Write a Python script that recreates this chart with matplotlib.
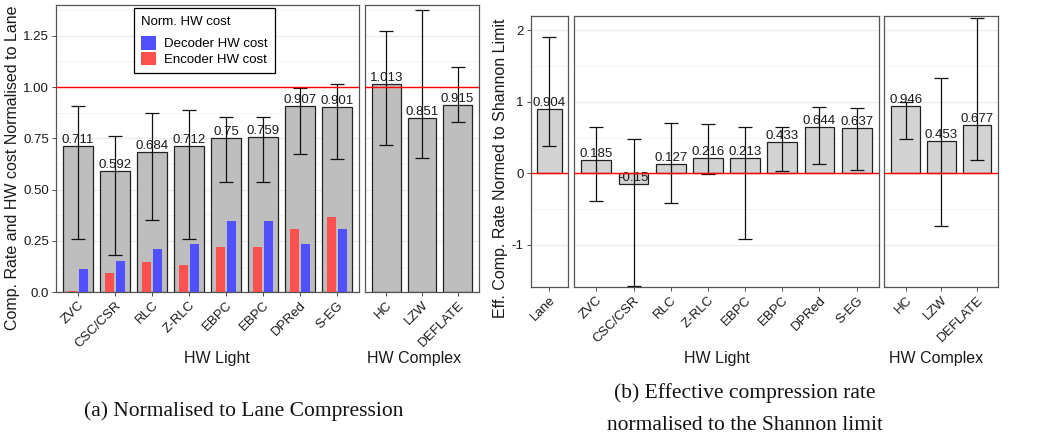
"""
Graphique en deux parties : taux de compression normalisé à Lane (a)
et taux effectif normalisé à la limite de Shannon (b).
"""

import matplotlib
matplotlib.use("Agg")
import matplotlib.pyplot as plt

# --- Données ---------------------------------------------------------------
light_labels = ["ZVC", "CSC/CSR", "RLC", "Z-RLC", "EBPC", "EBPC", "DPRed", "S-EG"]
complex_labels = ["HC", "LZW", "DEFLATE"]
lane_labels = ["Lane"]

# (a) normalisé à Lane
lane_rate_light = [0.711, 0.592, 0.684, 0.712, 0.75, 0.759, 0.907, 0.901]
lane_low_light = [0.259, 0.182, 0.353, 0.262, 0.537, 0.537, 0.675, 0.650]
lane_high_light = [0.906, 0.763, 0.872, 0.888, 0.852, 0.852, 0.997, 1.016]
encoder_cost = [0.006, 0.093, 0.146, 0.132, 0.220, 0.220, 0.307, 0.366]
decoder_cost = [0.115, 0.151, 0.210, 0.237, 0.346, 0.346, 0.233, 0.309]

lane_rate_complex = [1.013, 0.851, 0.915]
lane_low_complex = [0.717, 0.654, 0.828]
lane_high_complex = [1.275, 1.374, 1.098]

# (b) normalisé à la limite de Shannon
shannon_lane = [0.904]
shannon_low_lane = [0.383]
shannon_high_lane = [1.90]

shannon_light = [0.185, -0.15, 0.127, 0.216, 0.213, 0.433, 0.644, 0.637]
shannon_low_light = [-0.383, -1.570, -0.416, -0.009, -0.925, 0.028, 0.131, 0.051]
shannon_high_light = [0.650, 0.477, 0.710, 0.696, 0.654, 0.654, 0.921, 0.916]

shannon_complex = [0.946, 0.453, 0.677]
shannon_low_complex = [0.477, -0.734, 0.187]
shannon_high_complex = [0.995, 1.327, 2.173]

# --- Style -----------------------------------------------------------------
W, H = 1045, 443
SANS = "Liberation Sans"
SERIF = "Liberation Serif"
TXT = "#1a1a1a"
RED = "#FF5050"
BLUE = "#5050FF"
LINE_RED = "#FF0000"

plt.rcParams["font.family"] = SANS
plt.rcParams["axes.unicode_minus"] = False

fig = plt.figure(figsize=(W / 100, H / 100), dpi=100)


def px_axes(x0, y0, x1, y1):
    """Crée des axes à partir de coordonnées en pixels (origine en haut à gauche)."""
    return fig.add_axes([x0 / W, 1 - y1 / H, (x1 - x0) / W, (y1 - y0) / H])


def style_panel(ax, labels, ylim, major, minor, show_y):
    n = len(labels)
    ax.set_xlim(0.4, n + 0.6)
    ax.set_ylim(*ylim)
    ax.set_yticks(major)
    ax.set_yticks(minor, minor=True)
    ax.grid(axis="y", which="major", color="#EBEBEB", linewidth=0.9)
    ax.grid(axis="y", which="minor", color="#F2F2F2", linewidth=0.6)
    ax.set_axisbelow(True)
    ax.set_xticks(range(1, n + 1))
    ax.set_xticklabels(labels, rotation=45, ha="right", va="top",
                       rotation_mode="anchor", fontsize=9.5, color=TXT)
    ax.tick_params(axis="both", which="major", length=3, width=0.6, color="#333333", pad=2)
    ax.tick_params(axis="y", which="minor", length=0)
    for s in ax.spines.values():
        s.set_color("#555555")
        s.set_linewidth(0.9)
    if not show_y:
        ax.tick_params(axis="y", which="both", left=False, labelleft=False)
    else:
        ax.tick_params(axis="y", labelsize=9.5, labelcolor=TXT)


def draw_rates(ax, values, low, high, fill):
    x = list(range(1, len(values) + 1))
    ax.bar(x, values, width=0.8, color=fill, edgecolor="#222222", linewidth=0.9, zorder=2)
    for xi, v, lo, hi in zip(x, values, low, high):
        ax.errorbar(xi, v, yerr=[[v - lo], [hi - v]], fmt="none", ecolor="#111111",
                    elinewidth=0.9, capsize=4.7, capthick=0.9, zorder=5)
        ax.text(xi, v, f"{v:g}", ha="center", va="bottom", fontsize=9.5,
                color=TXT, zorder=4)


# --- (a) Normalisé à Lane --------------------------------------------------
a_ylim = (0, 1.40)
a_major = [0, 0.25, 0.5, 0.75, 1.0, 1.25]
a_minor = [0.125, 0.375, 0.625, 0.875, 1.125, 1.375]

ax_a1 = px_axes(56, 5, 359, 292.3)
ax_a2 = px_axes(365, 5, 479, 292.3)

style_panel(ax_a1, light_labels, a_ylim, a_major, a_minor, True)
ax_a1.set_yticklabels(["0.0", "0.25", "0.50", "0.75", "1.00", "1.25"])
style_panel(ax_a2, complex_labels, a_ylim, a_major, a_minor, False)

draw_rates(ax_a1, lane_rate_light, lane_low_light, lane_high_light, "#BEBEBE")
xl = range(1, len(light_labels) + 1)
enc = ax_a1.bar([v - 0.145 for v in xl], encoder_cost, width=0.24, color=RED, zorder=3)
dec = ax_a1.bar([v + 0.145 for v in xl], decoder_cost, width=0.24, color=BLUE, zorder=3)
draw_rates(ax_a2, lane_rate_complex, lane_low_complex, lane_high_complex, "#BEBEBE")

for ax in (ax_a1, ax_a2):
    ax.axhline(1.0, color=LINE_RED, linewidth=1.0, zorder=6)

leg = ax_a1.legend([dec, enc], ["Decoder HW cost", "Encoder HW cost"],
                   title="Norm. HW cost", loc="upper left",
                   bbox_to_anchor=(133.5 / W, 1 - 8.5 / H), bbox_transform=fig.transFigure,
                   fontsize=9.5, title_fontsize=9.5, frameon=True, fancybox=False,
                   edgecolor="black", framealpha=1, handlelength=1.15, handleheight=1.2,
                   handletextpad=0.6, labelspacing=0.12, borderpad=0.55,
                   alignment="left", borderaxespad=0)
leg._legend_box.sep = 6
leg.get_frame().set_linewidth(0.9)
leg.set_zorder(10)

fig.text(13 / W, 1 - 168 / H, "Comp. Rate and HW cost Normalised to Lane",
         rotation=90, ha="center", va="center", fontsize=11.5, color=TXT)
fig.text(217 / W, 1 - 358 / H, "HW Light", ha="center", va="center", fontsize=11.5, color=TXT)
fig.text(414 / W, 1 - 358 / H, "HW Complex", ha="center", va="center", fontsize=11.5, color=TXT)

fig.text(244 / W, 1 - 411 / H, "(a) Normalised to Lane Compression",
         ha="center", va="center", fontsize=15.5, family=SERIF, color="#111111")

# --- (b) Normalisé à la limite de Shannon ---------------------------------
b_ylim = (-1.594, 2.2)
b_major = [-1, 0, 1, 2]
b_minor = [-1.5, -0.5, 0.5, 1.5]

ax_b0 = px_axes(530.7, 16, 568.3, 287.3)
ax_b1 = px_axes(574, 16, 879, 287.3)
ax_b2 = px_axes(884.3, 16, 998.3, 287.3)

style_panel(ax_b0, lane_labels, b_ylim, b_major, b_minor, True)
style_panel(ax_b1, light_labels, b_ylim, b_major, b_minor, False)
style_panel(ax_b2, complex_labels, b_ylim, b_major, b_minor, False)

draw_rates(ax_b0, shannon_lane, shannon_low_lane, shannon_high_lane, "#D3D3D3")
draw_rates(ax_b1, shannon_light, shannon_low_light, shannon_high_light, "#D3D3D3")
draw_rates(ax_b2, shannon_complex, shannon_low_complex, shannon_high_complex, "#D3D3D3")

for ax in (ax_b0, ax_b1, ax_b2):
    ax.axhline(0.0, color=LINE_RED, linewidth=1.0, zorder=6)

fig.text(501 / W, 1 - 168 / H, "Eff. Comp. Rate Normed to Shannon Limit",
         rotation=90, ha="center", va="center", fontsize=11.5, color=TXT)
fig.text(717 / W, 1 - 358 / H, "HW Light", ha="center", va="center", fontsize=11.5, color=TXT)
fig.text(936 / W, 1 - 358 / H, "HW Complex", ha="center", va="center", fontsize=11.5, color=TXT)

fig.text(745 / W, 1 - 393 / H, "(b) Effective compression rate",
         ha="center", va="center", fontsize=15.5, family=SERIF, color="#111111")
fig.text(745 / W, 1 - 426 / H, "normalised to the Shannon limit",
         ha="center", va="center", fontsize=15.5, family=SERIF, color="#111111")

fig.savefig("out.png", dpi=100)
